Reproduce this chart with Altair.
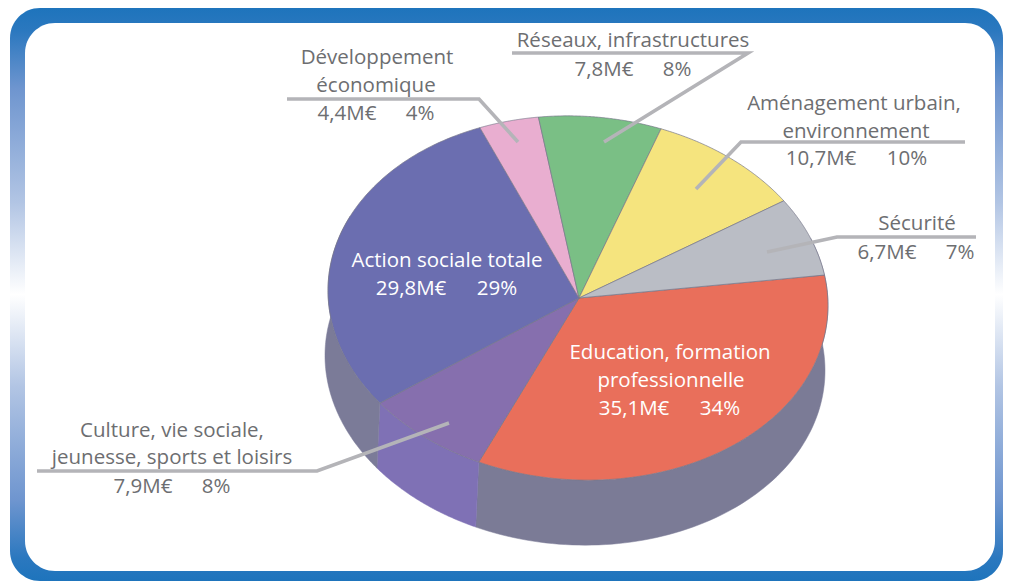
import numpy as np
import altair as alt

# --- data ---
categories = ["Education", "Culture", "Action sociale", "Développement", "Réseaux", "Aménagement", "Sécurité"]
millions = [35.1, 7.9, 29.8, 4.4, 7.8, 10.7, 6.7]
sector_degrees = [123.0, 29.0, 104.5, 14.0, 28.5, 36.0, 25.0]  # sector sizes as drawn on the rim
top_colors = ["#e96f5b", "#866fae", "#6b6eb0", "#e9aed0", "#7abf85", "#f5e47e", "#babdc5"]

# text: (label, x, y, colour group) in picture pixels
GREY = "#6d6e71"
WHITE = "#ffffff"
labels = [
    ("Développement", 377, 58, GREY), ("économique", 376, 86, GREY), ("4,4M€", 347, 114, GREY), ("4%", 420, 114, GREY),
    ("Réseaux, infrastructures", 633, 41, GREY), ("7,8M€", 604, 70, GREY), ("8%", 677, 70, GREY),
    ("Aménagement urbain,", 854, 104, GREY), ("environnement", 856, 132, GREY), ("10,7M€", 821, 159, GREY), ("10%", 907, 159, GREY),
    ("Sécurité", 917, 224, GREY), ("6,7M€", 887, 253, GREY), ("7%", 960, 253, GREY),
    ("Culture, vie sociale,", 172, 431, GREY), ("jeunesse, sports et loisirs", 172, 458, GREY), ("7,9M€", 143, 487, GREY), ("8%", 216, 487, GREY),
    ("Action sociale totale", 447, 261, WHITE), ("29,8M€", 411, 289, WHITE), ("29%", 497, 289, WHITE),
    ("Education, formation", 670, 353, WHITE), ("professionnelle", 671, 381, WHITE), ("35,1M€", 634, 409, WHITE), ("34%", 720, 409, WHITE),
]
leaders = [
    [(287, 99), (479, 99), (518, 142)],
    [(512, 53), (748, 53), (604, 142)],
    [(965, 142), (741, 142), (696, 189)],
    [(976, 237), (837, 237), (767, 252)],
    [(37, 471), (317, 471), (449, 423)],
]

OX, OY = 8, 8  # page margin
CX, CY, RX, RY, SHEAR = 578, 298, 250, 182, 0.03
DX, DY = -3, 65
START = 9.6


def rim(t0, t1, dx=0, dy=0):
    ts = np.radians(np.linspace(t0, t1, 90))
    xs = CX + RX * np.cos(ts)
    ys = CY - RY * np.sin(ts) + SHEAR * (xs - CX)
    return [[float(x + dx - OX), float(y + dy - OY)] for x, y in zip(xs, ys)]


def feature(ring, fill, stroke):
    ring = ring + [ring[0]]
    return {"type": "Feature", "geometry": {"type": "Polygon", "coordinates": [ring]},
            "properties": {"fill": fill, "stroke": stroke}}


edges = START - np.concatenate([[0], np.cumsum(sector_degrees)])

side_spans = [(edges[0] + 12, edges[1], "#7b7b96"), (edges[1], edges[2], "#7f71b5"), (edges[2], edges[2] - 62, "#7b7b98")]
side_feats = [feature(rim(a, b) + rim(a, b, DX, DY)[::-1], c, c) for a, b, c in side_spans]
top_feats = []
for i, c in enumerate(top_colors):
    apex = [CX + 1 - OX, CY - OY]
    top_feats.append(feature([apex] + rim(edges[i], edges[i + 1]), c, "#77778a"))

W, H = 995, 573
one = alt.Data(values=[{}])
outer = alt.Chart(one).mark_rect(
    cornerRadius=30,
    fill=alt.Gradient(gradient="linear", x1=0, x2=0, y1=0, y2=1, stops=[
        alt.GradientStop(offset=0.0, color="#1e74bc"),
        alt.GradientStop(offset=0.04, color="#2b78bf"),
        alt.GradientStop(offset=0.14, color="#6e95cf"),
        alt.GradientStop(offset=0.34, color="#b2c5e4"),
        alt.GradientStop(offset=0.5, color="#ffffff"),
        alt.GradientStop(offset=0.66, color="#b2c5e4"),
        alt.GradientStop(offset=0.86, color="#6e95cf"),
        alt.GradientStop(offset=0.96, color="#2b78bf"),
        alt.GradientStop(offset=1.0, color="#1e74bc"),
    ]),
).encode(x=alt.value(10 - OX), x2=alt.value(1003 - OX), y=alt.value(8 - OY), y2=alt.value(581 - OY))
inner = alt.Chart(one).mark_rect(cornerRadius=30, fill="#ffffff").encode(
    x=alt.value(25 - OX), x2=alt.value(995 - OX), y=alt.value(23 - OY), y2=alt.value(571 - OY))

proj = dict(type="identity", scale=1, translate=[0, 0])
sides = alt.Chart(alt.Data(values=side_feats)).mark_geoshape(strokeWidth=0.5).encode(
    fill=alt.Fill("properties.fill:N", scale=None), stroke=alt.Stroke("properties.stroke:N", scale=None)
).project(**proj)
tops = alt.Chart(alt.Data(values=top_feats)).mark_geoshape(strokeWidth=0.7).encode(
    fill=alt.Fill("properties.fill:N", scale=None), stroke=alt.Stroke("properties.stroke:N", scale=None)
).project(**proj)

line_rows = [{"id": i, "k": k, "x": p[0] - OX, "y": p[1] - OY} for i, l in enumerate(leaders) for k, p in enumerate(l)]
lines = alt.Chart(alt.Data(values=line_rows)).mark_line(color="#b4b4b8", strokeWidth=3.6, strokeJoin="miter").encode(
    x=alt.X("x:Q", scale=None, axis=None), y=alt.Y("y:Q", scale=None, axis=None),
    detail="id:N", order="k:Q")

text_rows = [{"t": t, "x": x - OX, "y": y - OY, "c": c} for t, x, y, c in labels]
texts = alt.Chart(alt.Data(values=text_rows)).mark_text(
    font="Open Sans", fontSize=20.5, align="center", baseline="middle").encode(
    x=alt.X("x:Q", scale=None, axis=None), y=alt.Y("y:Q", scale=None, axis=None),
    text="t:N", color=alt.Color("c:N", scale=None))

chart = alt.layer(outer, inner, sides, tops, lines, texts).properties(
    width=W, height=H, padding=0, autosize=alt.AutoSizeParams(type="none")
).configure_view(stroke=None)

chart.save("out.html", embed_options={"renderer": "svg", "actions": False})
